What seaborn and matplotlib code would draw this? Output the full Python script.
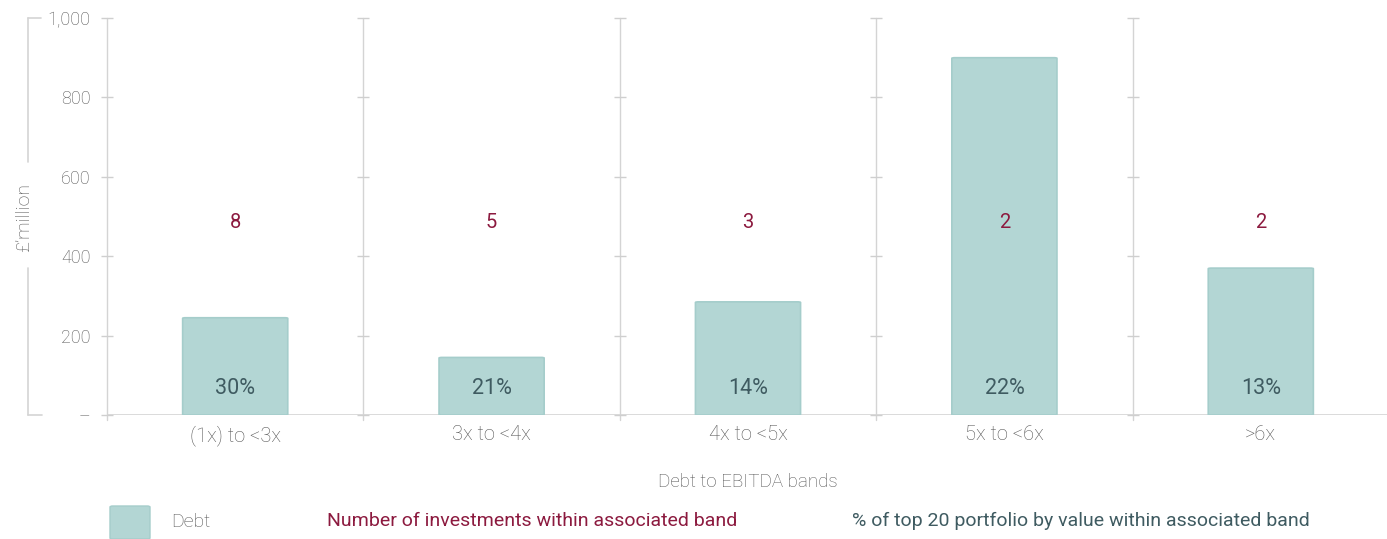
import matplotlib
matplotlib.use("Agg")
import matplotlib.pyplot as plt
from matplotlib.lines import Line2D
from matplotlib.patches import FancyBboxPatch, Rectangle
import pandas as pd
import seaborn as sns

# Debt by Debt/EBITDA band, £ million
bands = ["(1x) to <3x", "3x to <4x", "4x to <5x", "5x to <6x", ">6x"]
debt = [245, 145, 285, 900, 370]
num_investments = [8, 5, 3, 2, 2]
pct_top20 = ["30%", "21%", "14%", "22%", "13%"]
y_ticks = [0, 200, 400, 600, 800, 1000]
y_tick_labels = ["\u2013", "200", "400", "600", "800", "1,000"]

BAR = "#b3d6d4"
BAR_EDGE = "#a5cdcb"
CRIMSON = "#8c1a3f"
TEAL_TEXT = "#3f5b61"
GREY_TEXT = "#555555"
RULE = "#d4d4d4"

sns.set_theme(style="white")
plt.rcParams["font.family"] = ["Roboto", "DejaVu Sans"]

W, H = 1387, 539
fig = plt.figure(figsize=(W / 100, H / 100), dpi=100)


def fx(px):
    return px / W


def fy(py):
    return 1 - py / H


left_px, right_px, top_px, base_px = 107, 1389, 18, 415
ax = fig.add_axes([fx(left_px), fy(base_px), fx(right_px - left_px), fy(top_px) - fy(base_px)])

df = pd.DataFrame({"band": bands, "debt": debt})
sns.barplot(data=df, x="band", y="debt", color=BAR, width=0.41, ax=ax,
            saturation=1, zorder=3)

# swap the plain rectangles for softly rounded ones at the same place
for p in list(ax.patches):
    if isinstance(p, Rectangle):
        x0, y0 = p.get_x(), p.get_y()
        w, h = p.get_width(), p.get_height()
        rb = FancyBboxPatch((x0, y0), w, h,
                            boxstyle="round,pad=0,rounding_size=0.012",
                            mutation_aspect=129,
                            facecolor=BAR, edgecolor=BAR_EDGE, linewidth=1.2,
                            zorder=3)
        p.set_visible(False)
        ax.add_patch(rb)

ax.set_xlim(-0.5, 4.5)
ax.set_ylim(0, 1000)

# band separators with small tick marks at each level
for b in [-0.5, 0.5, 1.5, 2.5, 3.5]:
    ax.plot([b, b], [0, 1000], color=RULE, lw=1.0, zorder=1, clip_on=False)
    ax.plot([b, b], [0, -12], color=RULE, lw=1.0, zorder=1, clip_on=False)
    ax.plot([b] * len(y_ticks), y_ticks, ls="none", marker="_", markersize=8,
            markeredgewidth=1.0, color="#cfcfcf", zorder=1, clip_on=False)
ax.axhline(0, color=RULE, lw=1.2, zorder=2)

# counts and portfolio shares per band
for i in range(len(bands)):
    ax.text(i, 485, str(num_investments[i]), ha="center", va="center",
            color=CRIMSON, fontsize=14.5)
    ax.text(i, 66, pct_top20[i], ha="center", va="center",
            color=TEAL_TEXT, fontsize=15.5)

ax.set_yticks(y_ticks)
ax.set_yticklabels(y_tick_labels, color=GREY_TEXT, fontsize=13, fontweight="light")
ax.set_xticks(range(len(bands)))
ax.set_xticklabels(bands, color=GREY_TEXT, fontsize=14.5, fontweight="light")
ax.tick_params(axis="y", length=0, pad=12)
ax.tick_params(axis="x", length=0, pad=7)
ax.set_xlabel("")
ax.set_ylabel("")
for s in ax.spines.values():
    s.set_visible(False)

# left bracket with the unit label in its gap
fig.add_artist(Line2D([fx(28), fx(28)], [fy(top_px), fy(162)], color=RULE, lw=1.2))
fig.add_artist(Line2D([fx(28), fx(28)], [fy(268), fy(base_px)], color=RULE, lw=1.2))
fig.add_artist(Line2D([fx(28), fx(41)], [fy(top_px), fy(top_px)], color=RULE, lw=1.2))
fig.add_artist(Line2D([fx(28), fx(42)], [fy(base_px), fy(base_px)], color=RULE, lw=1.2))
fig.text(fx(24), fy(217), "\u00a3\u2019million", rotation=90, ha="center", va="center",
         color=GREY_TEXT, fontsize=14, fontweight="light")

fig.text(fx(748), fy(482), "Debt to EBITDA bands", ha="center", va="center",
         color=GREY_TEXT, fontsize=13.5, fontweight="light")

# legend row
fig.add_artist(FancyBboxPatch((fx(110), fy(539)), fx(40), fy(506) - fy(539),
                              boxstyle="round,pad=0,rounding_size=0.002",
                              facecolor=BAR, edgecolor=BAR_EDGE, lw=1.0,
                              transform=fig.transFigure))
fig.text(fx(171), fy(522), "Debt", ha="left", va="center", color=GREY_TEXT,
         fontsize=14, fontweight="light")
fig.text(fx(327), fy(521), "Number of investments within associated band",
         ha="left", va="center", color=CRIMSON, fontsize=14)
fig.text(fx(852), fy(521), "% of top 20 portfolio by value within associated band",
         ha="left", va="center", color=TEAL_TEXT, fontsize=14)

fig.savefig("out.png", dpi=100, facecolor="white")
